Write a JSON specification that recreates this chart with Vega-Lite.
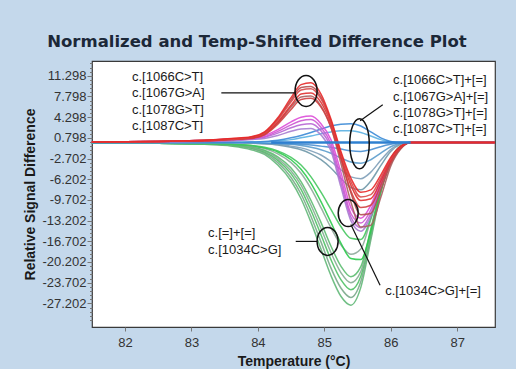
{
  "$schema": "https://vega.github.io/schema/vega-lite/v6.json",
  "width": 403,
  "height": 266,
  "autosize": {"type": "none"},
  "padding": {"left": 92, "top": 61, "right": 21, "bottom": 42},
  "background": "#c4d8eb",
  "config": {
    "view": {"fill": "white", "stroke": "#3a3a3a", "strokeWidth": 1.2}
  },
  "title": {
    "text": "Normalized and Temp-Shifted Difference Plot",
    "font": "DejaVu Sans",
    "fontSize": 16.5,
    "fontWeight": "bold",
    "color": "#1c2838",
    "anchor": "middle",
    "frame": "bounds",
    "offset": 7,
    "dx": -4
  },
  "datasets": {
    "curves": [
      {"x": 81.5, "s01": -0.1, "s02": -0.1, "s03": -0.1, "s04": -0.1, "s05": -0.1, "s06": -0.1, "s07": -0.1, "s08": -0.1, "s09": 0, "s10": 0, "s11": 0, "s12": 0, "s13": 0, "s14": 0, "s15": 0.1, "s16": 0.1, "s17": 0.1, "s18": 0.1, "s19": 0.1, "s20": 0.1, "s21": 0.1, "s22": 0.1, "s23": 0.1, "s24": 0.1},
      {"x": 82.5, "s01": -0.1, "s02": -0.1, "s03": -0.1, "s04": -0.1, "s05": -0.1, "s06": -0.1, "s07": -0.1, "s08": -0.1, "s09": 0, "s10": 0, "s11": 0, "s12": 0, "s13": 0, "s14": 0, "s15": 0.1, "s16": 0.2, "s17": 0.2, "s18": 0.2, "s19": 0.2, "s20": 0.2, "s21": 0.2, "s22": 0.2, "s23": 0.2, "s24": 0.2},
      {"x": 83.2, "s01": -0.3, "s02": -0.3, "s03": -0.2, "s04": -0.2, "s05": -0.2, "s06": -0.2, "s07": -0.2, "s08": -0.2, "s09": 0, "s10": 0, "s11": 0, "s12": 0, "s13": 0, "s14": 0, "s15": 0.2, "s16": 0.3, "s17": 0.3, "s18": 0.4, "s19": 0.3, "s20": 0.4, "s21": 0.3, "s22": 0.3, "s23": 0.4, "s24": 0.4},
      {"x": 83.6, "s01": -0.6, "s02": -0.5, "s03": -0.5, "s04": -0.4, "s05": -0.4, "s06": -0.3, "s07": -0.3, "s08": -0.3, "s09": 0, "s10": 0, "s11": 0, "s12": 0, "s13": 0, "s14": 0, "s15": 0.3, "s16": 0.4, "s17": 0.5, "s18": 0.6, "s19": 0.5, "s20": 0.6, "s21": 0.5, "s22": 0.6, "s23": 0.6, "s24": 0.7},
      {"x": 83.9, "s01": -1.2, "s02": -1.0, "s03": -0.9, "s04": -0.8, "s05": -0.7, "s06": -0.6, "s07": -0.5, "s08": -0.5, "s09": -0.1, "s10": -0.1, "s11": 0, "s12": 0, "s13": 0.1, "s14": 0.1, "s15": 0.5, "s16": 0.6, "s17": 0.7, "s18": 0.8, "s19": 0.8, "s20": 0.9, "s21": 0.7, "s22": 0.8, "s23": 0.9, "s24": 1.0},
      {"x": 84.1, "s01": -2.0, "s02": -1.8, "s03": -1.6, "s04": -1.4, "s05": -1.3, "s06": -1.0, "s07": -0.9, "s08": -0.8, "s09": -0.2, "s10": -0.2, "s11": -0.1, "s12": -0.1, "s13": 0.1, "s14": 0.2, "s15": 0.7, "s16": 0.9, "s17": 1.0, "s18": 1.2, "s19": 1.4, "s20": 1.7, "s21": 1.3, "s22": 1.5, "s23": 1.6, "s24": 1.8},
      {"x": 84.3, "s01": -3.8, "s02": -3.4, "s03": -3.0, "s04": -2.7, "s05": -2.4, "s06": -1.9, "s07": -1.6, "s08": -1.4, "s09": -0.4, "s10": -0.3, "s11": -0.2, "s12": -0.1, "s13": 0.3, "s14": 0.4, "s15": 1.2, "s16": 1.6, "s17": 1.9, "s18": 2.2, "s19": 3.3, "s20": 4.0, "s21": 3.1, "s22": 3.5, "s23": 3.8, "s24": 4.2},
      {"x": 84.5, "s01": -6.5, "s02": -5.9, "s03": -5.3, "s04": -4.8, "s05": -4.3, "s06": -3.4, "s07": -2.9, "s08": -2.5, "s09": -0.8, "s10": -0.6, "s11": -0.3, "s12": -0.2, "s13": 0.5, "s14": 0.8, "s15": 1.9, "s16": 2.5, "s17": 3.0, "s18": 3.5, "s19": 6.0, "s20": 7.2, "s21": 5.6, "s22": 6.3, "s23": 6.9, "s24": 7.6},
      {"x": 84.65, "s01": -9.5, "s02": -8.7, "s03": -7.9, "s04": -7.2, "s05": -6.6, "s06": -5.2, "s07": -4.5, "s08": -3.8, "s09": -1.2, "s10": -0.9, "s11": -0.5, "s12": -0.3, "s13": 0.8, "s14": 1.2, "s15": 2.3, "s16": 3.0, "s17": 3.7, "s18": 4.3, "s19": 7.7, "s20": 9.3, "s21": 7.3, "s22": 8.2, "s23": 8.9, "s24": 9.8},
      {"x": 84.8, "s01": -13.5, "s02": -12.5, "s03": -11.5, "s04": -10.6, "s05": -9.8, "s06": -7.8, "s07": -6.9, "s08": -5.8, "s09": -1.9, "s10": -1.4, "s11": -0.8, "s12": -0.4, "s13": 1.1, "s14": 1.7, "s15": 2.4, "s16": 3.2, "s17": 3.9, "s18": 4.5, "s19": 7.9, "s20": 9.5, "s21": 7.5, "s22": 8.4, "s23": 9.1, "s24": 10.1},
      {"x": 84.95, "s01": -18.0, "s02": -16.8, "s03": -15.6, "s04": -14.5, "s05": -13.5, "s06": -11.0, "s07": -10.0, "s08": -8.4, "s09": -2.9, "s10": -2.1, "s11": -1.2, "s12": -0.6, "s13": 1.5, "s14": 2.3, "s15": 1.3, "s16": 2.0, "s17": 2.6, "s18": 3.2, "s19": 6.2, "s20": 7.7, "s21": 6.0, "s22": 6.8, "s23": 7.4, "s24": 8.2},
      {"x": 85.1, "s01": -22.5, "s02": -21.2, "s03": -19.8, "s04": -18.6, "s05": -17.5, "s06": -14.4, "s07": -13.5, "s08": -11.3, "s09": -4.3, "s10": -3.2, "s11": -1.8, "s12": -0.8, "s13": 1.8, "s14": 2.8, "s15": -1.4, "s16": -0.8, "s17": -0.2, "s18": 0.5, "s19": 2.6, "s20": 3.6, "s21": 2.6, "s22": 3.2, "s23": 3.6, "s24": 4.0},
      {"x": 85.25, "s01": -26.0, "s02": -24.6, "s03": -23.2, "s04": -22.0, "s05": -20.9, "s06": -17.3, "s07": -17.0, "s08": -14.2, "s09": -6.1, "s10": -4.6, "s11": -2.6, "s12": -1.1, "s13": 2.0, "s14": 3.1, "s15": -7.5, "s16": -6.8, "s17": -6.0, "s18": -5.0, "s19": -3.5, "s20": -2.5, "s21": -2.8, "s22": -2.2, "s23": -1.8, "s24": -1.5},
      {"x": 85.4, "s01": -27.5, "s02": -26.2, "s03": -24.9, "s04": -23.7, "s05": -22.7, "s06": -18.9, "s07": -19.6, "s08": -16.2, "s09": -7.6, "s10": -5.8, "s11": -3.3, "s12": -1.4, "s13": 2.0, "s14": 3.2, "s15": -13.2, "s16": -12.6, "s17": -12.0, "s18": -11.0, "s19": -10.0, "s20": -8.5, "s21": -8.2, "s22": -7.2, "s23": -6.6, "s24": -6.0},
      {"x": 85.55, "s01": -24.5, "s02": -23.5, "s03": -22.6, "s04": -21.8, "s05": -21.0, "s06": -18.0, "s07": -19.8, "s08": -16.4, "s09": -8.0, "s10": -6.1, "s11": -3.5, "s12": -1.5, "s13": 1.7, "s14": 2.8, "s15": -15.0, "s16": -14.4, "s17": -13.6, "s18": -12.8, "s19": -14.3, "s20": -12.2, "s21": -11.0, "s22": -9.8, "s23": -9.2, "s24": -8.4},
      {"x": 85.7, "s01": -16.5, "s02": -16.0, "s03": -15.5, "s04": -15.0, "s05": -14.6, "s06": -13.0, "s07": -15.0, "s08": -12.8, "s09": -6.5, "s10": -5.0, "s11": -2.9, "s12": -1.2, "s13": 1.1, "s14": 1.8, "s15": -12.5, "s16": -12.0, "s17": -11.4, "s18": -10.6, "s19": -14.0, "s20": -12.0, "s21": -10.6, "s22": -9.5, "s23": -8.8, "s24": -8.0},
      {"x": 85.85, "s01": -8.5, "s02": -8.3, "s03": -8.1, "s04": -7.9, "s05": -7.7, "s06": -7.0, "s07": -8.2, "s08": -7.3, "s09": -3.9, "s10": -3.0, "s11": -1.8, "s12": -0.7, "s13": 0.5, "s14": 0.8, "s15": -7.6, "s16": -7.2, "s17": -6.8, "s18": -6.4, "s19": -9.3, "s20": -8.0, "s21": -7.2, "s22": -6.5, "s23": -6.0, "s24": -5.5},
      {"x": 86.0, "s01": -3.2, "s02": -3.1, "s03": -3.0, "s04": -2.9, "s05": -2.9, "s06": -2.7, "s07": -3.2, "s08": -2.9, "s09": -1.5, "s10": -1.2, "s11": -0.7, "s12": -0.3, "s13": 0.1, "s14": 0.2, "s15": -3.3, "s16": -3.1, "s17": -3.0, "s18": -2.8, "s19": -4.0, "s20": -3.6, "s21": -3.3, "s22": -3.0, "s23": -2.8, "s24": -2.5},
      {"x": 86.15, "s01": -0.7, "s02": -0.7, "s03": -0.7, "s04": -0.6, "s05": -0.6, "s06": -0.6, "s07": -0.7, "s08": -0.6, "s09": -0.3, "s10": -0.2, "s11": -0.1, "s12": 0, "s13": 0, "s14": 0, "s15": -0.8, "s16": -0.8, "s17": -0.7, "s18": -0.7, "s19": -1.1, "s20": -1.0, "s21": -0.9, "s22": -0.8, "s23": -0.7, "s24": -0.6},
      {"x": 86.3, "s01": 0, "s02": 0, "s03": 0, "s04": 0, "s05": 0, "s06": 0, "s07": 0, "s08": 0, "s09": 0, "s10": 0, "s11": 0, "s12": 0, "s13": 0, "s14": 0, "s15": 0, "s16": 0, "s17": 0, "s18": 0, "s19": 0, "s20": 0, "s21": 0, "s22": 0, "s23": 0, "s24": 0},
      {"x": 87.57, "s01": 0, "s02": 0, "s03": 0, "s04": 0, "s05": 0, "s06": 0, "s07": 0, "s08": 0, "s09": 0, "s10": 0, "s11": 0, "s12": 0, "s13": 0, "s14": 0, "s15": 0, "s16": 0, "s17": 0, "s18": 0, "s19": 0, "s20": 0, "s21": 0, "s22": 0, "s23": 0, "s24": 0}
    ],
    "baseline": [
      {"x": 84.2, "v": 0},
      {"x": 86.3, "v": 0}
    ],
    "labels": [
      {"x": 82.105, "v": 11.1, "t": "c.[1066C>T]"},
      {"x": 82.105, "v": 8.32, "t": "c.[1067G>A]"},
      {"x": 82.105, "v": 5.54, "t": "c.[1078G>T]"},
      {"x": 82.105, "v": 2.84, "t": "c.[1087C>T]"},
      {"x": 86.036, "v": 10.6, "t": "c.[1066C>T]+[=]"},
      {"x": 86.036, "v": 7.73, "t": "c.[1067G>A]+[=]"},
      {"x": 86.036, "v": 5.03, "t": "c.[1078G>T]+[=]"},
      {"x": 86.036, "v": 2.33, "t": "c.[1087C>T]+[=]"},
      {"x": 83.25, "v": -15.37, "t": "c.[=]+[=]"},
      {"x": 83.25, "v": -18.24, "t": "c.[1034C>G]"},
      {"x": 85.916, "v": -25.19, "t": "c.[1034C>G]+[=]"}
    ],
    "leaders": [
      {"x": 83.45, "v": 8.4, "x2": 84.57, "v2": 8.4},
      {"x": 85.88, "v": 6.38, "x2": 85.54, "v2": 3.68},
      {"x": 85.4, "v": -13.86, "x2": 85.84, "v2": -24.14},
      {"x": 84.57, "v": -16.72, "x2": 84.89, "v2": -16.72}
    ]
  },
  "layer": [
    {
      "data": {"name": "curves"},
      "transform": [
        {"fold": ["s01", "s02", "s03", "s04", "s05", "s06", "s07", "s08", "s09", "s10", "s11", "s12", "s13", "s14", "s15", "s16", "s17", "s18", "s19", "s20", "s21", "s22", "s23", "s24"], "as": ["series", "v"]}
      ],
      "mark": {"type": "line", "interpolate": "monotone", "strokeWidth": 1.5, "opacity": 0.9},
      "encoding": {
        "x": {
          "field": "x", "type": "quantitative", "title": "Temperature (°C)",
          "scale": {"domain": [81.503, 87.57], "nice": false, "zero": false},
          "axis": {
            "values": [82, 83, 84, 85, 86, 87], "format": "d", "tickCount": 100,
            "grid": false, "domain": false,
            "tickSize": 4, "tickColor": "#777",
            "labelFont": "Liberation Sans", "labelFontSize": 13, "labelColor": "#333", "labelPadding": 5,
            "titleFont": "Liberation Sans", "titleFontSize": 14, "titleFontWeight": "bold", "titleColor": "#1a1a1a", "titlePadding": 5
          }
        },
        "y": {
          "field": "v", "type": "quantitative", "title": "Relative Signal Difference",
          "scale": {"domain": [-31.2, 13.8], "nice": false, "zero": false},
          "axis": {
            "values": [13.398, 12.698, 11.998, 11.298, 10.598, 9.898, 9.198, 8.498, 7.798, 7.098, 6.398, 5.698, 4.998, 4.298, 3.598, 2.898, 2.198, 1.498, 0.798, 0.098, -0.602, -1.302, -2.002, -2.702, -3.402, -4.102, -4.802, -5.502, -6.202, -6.902, -7.602, -8.302, -9.002, -9.702, -10.402, -11.102, -11.802, -12.502, -13.202, -13.902, -14.602, -15.302, -16.002, -16.702, -17.402, -18.102, -18.802, -19.502, -20.202, -20.902, -21.602, -22.302, -23.002, -23.702, -24.402, -25.102, -25.802, -26.502, -27.202, -27.902, -28.602, -29.302, -30.002],
            "tickCount": 1000,
            "labelExpr": "abs((11.298 - datum.value) / 3.5 - round((11.298 - datum.value) / 3.5)) < 0.01 ? (datum.value < 0 ? '-' : '') + format(abs(datum.value), '.3f') : ''",
            "tickSize": {"condition": {"test": "abs((11.298 - datum.value) / 3.5 - round((11.298 - datum.value) / 3.5)) < 0.01", "value": 5}, "value": 2.5},
            "labelOverlap": false,
            "grid": false, "domain": false, "tickColor": "#777",
            "labelFont": "Liberation Sans", "labelFontSize": 13, "labelColor": "#333", "labelPadding": 1,
            "titleFont": "Liberation Sans", "titleFontSize": 14, "titleFontWeight": "bold", "titleColor": "#1a1a1a", "titlePadding": 4
          }
        },
        "color": {
          "field": "series", "type": "nominal", "legend": null,
          "scale": {
            "domain": ["s01", "s02", "s03", "s04", "s05", "s06", "s07", "s08", "s09", "s10", "s11", "s12", "s13", "s14", "s15", "s16", "s17", "s18", "s19", "s20", "s21", "s22", "s23", "s24"],
            "range": ["#62b878", "#7aa98a", "#4fc165", "#86ad94", "#5cbc70", "#8fa89a", "#2ccb4d", "#45c65e", "#6f98a8", "#7e9fb8", "#5b9ccc", "#4a8fd0", "#5ab0e2", "#3b8ad6", "#a77cd0", "#b866d4", "#cc55d2", "#dd4cd8", "#a86060", "#b25050", "#cf4040", "#e03030", "#d84a4a", "#e82828"]
          }
        }
      }
    },
    {
      "data": {"name": "baseline"},
      "mark": {"type": "line", "color": "#2f80d0", "strokeWidth": 2.5},
      "encoding": {
        "x": {"field": "x", "type": "quantitative", "title": "Temperature (°C)"},
        "y": {"field": "v", "type": "quantitative", "title": "Relative Signal Difference"}
      }
    },
    {
      "data": {"values": [{"x": 84.726, "v": 8.74}]},
      "mark": {"type": "point", "shape": "M-0.71,0A0.71,1,0,1,1,0.71,0A0.71,1,0,1,1,-0.71,0Z", "size": 961, "filled": false, "color": "#111", "strokeWidth": 1.5, "opacity": 1},
      "encoding": {
        "x": {"field": "x", "type": "quantitative", "title": "Temperature (°C)"},
        "y": {"field": "v", "type": "quantitative", "title": "Relative Signal Difference"}
      }
    },
    {
      "data": {"values": [{"x": 85.53, "v": -0.2}]},
      "mark": {"type": "point", "shape": "M-0.39,0A0.39,1,0,1,1,0.39,0A0.39,1,0,1,1,-0.39,0Z", "size": 2500, "filled": false, "color": "#111", "strokeWidth": 1.5, "opacity": 1},
      "encoding": {
        "x": {"field": "x", "type": "quantitative", "title": "Temperature (°C)"},
        "y": {"field": "v", "type": "quantitative", "title": "Relative Signal Difference"}
      }
    },
    {
      "data": {"values": [{"x": 85.36, "v": -11.92}]},
      "mark": {"type": "point", "shape": "M-0.74,0A0.74,1,0,1,1,0.74,0A0.74,1,0,1,1,-0.74,0Z", "size": 729, "filled": false, "color": "#111", "strokeWidth": 1.5, "opacity": 1},
      "encoding": {
        "x": {"field": "x", "type": "quantitative", "title": "Temperature (°C)"},
        "y": {"field": "v", "type": "quantitative", "title": "Relative Signal Difference"}
      }
    },
    {
      "data": {"values": [{"x": 85.05, "v": -16.72}]},
      "mark": {"type": "point", "shape": "M-0.75,0A0.75,1,0,1,1,0.75,0A0.75,1,0,1,1,-0.75,0Z", "size": 784, "filled": false, "color": "#111", "strokeWidth": 1.5, "opacity": 1},
      "encoding": {
        "x": {"field": "x", "type": "quantitative", "title": "Temperature (°C)"},
        "y": {"field": "v", "type": "quantitative", "title": "Relative Signal Difference"}
      }
    },
    {
      "data": {"name": "leaders"},
      "mark": {"type": "rule", "color": "#111", "strokeWidth": 1.2},
      "encoding": {
        "x": {"field": "x", "type": "quantitative", "title": "Temperature (°C)"},
        "y": {"field": "v", "type": "quantitative", "title": "Relative Signal Difference"},
        "x2": {"field": "x2"},
        "y2": {"field": "v2"}
      }
    },
    {
      "data": {"name": "labels"},
      "mark": {"type": "text", "align": "left", "baseline": "middle", "font": "Liberation Sans", "fontSize": 13, "color": "#1a1a1a"},
      "encoding": {
        "x": {"field": "x", "type": "quantitative", "title": "Temperature (°C)"},
        "y": {"field": "v", "type": "quantitative", "title": "Relative Signal Difference"},
        "text": {"field": "t", "type": "nominal"}
      }
    }
  ]
}
